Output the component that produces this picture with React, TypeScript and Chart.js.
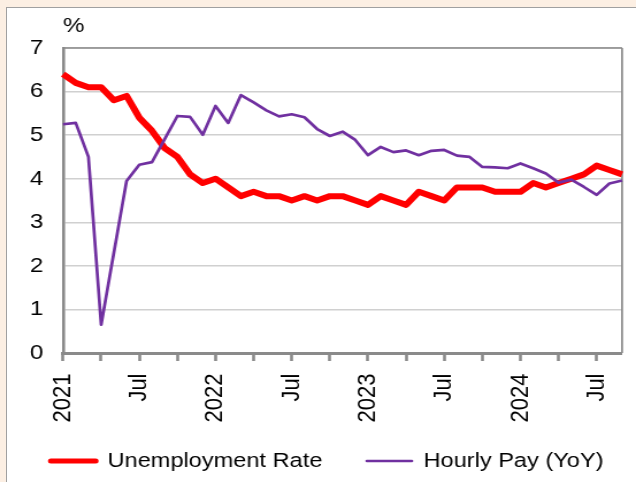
import React, { useEffect, useRef } from 'react';
import { Chart, registerables } from 'chart.js';

Chart.register(...registerables);

// ---- Data ----
const months = [
  'Jan 2021', 'Feb 2021', 'Mar 2021', 'Apr 2021', 'May 2021', 'Jun 2021',
  'Jul 2021', 'Aug 2021', 'Sep 2021', 'Oct 2021', 'Nov 2021', 'Dec 2021',
  'Jan 2022', 'Feb 2022', 'Mar 2022', 'Apr 2022', 'May 2022', 'Jun 2022',
  'Jul 2022', 'Aug 2022', 'Sep 2022', 'Oct 2022', 'Nov 2022', 'Dec 2022',
  'Jan 2023', 'Feb 2023', 'Mar 2023', 'Apr 2023', 'May 2023', 'Jun 2023',
  'Jul 2023', 'Aug 2023', 'Sep 2023', 'Oct 2023', 'Nov 2023', 'Dec 2023',
  'Jan 2024', 'Feb 2024', 'Mar 2024', 'Apr 2024', 'May 2024', 'Jun 2024',
  'Jul 2024', 'Aug 2024', 'Sep 2024',
];

const unemploymentRate = [
  6.4, 6.2, 6.1, 6.1, 5.8, 5.9, 5.4, 5.1, 4.7, 4.5, 4.1, 3.9,
  4.0, 3.8, 3.6, 3.7, 3.6, 3.6, 3.5, 3.6, 3.5, 3.6, 3.6, 3.5,
  3.4, 3.6, 3.5, 3.4, 3.7, 3.6, 3.5, 3.8, 3.8, 3.8, 3.7, 3.7,
  3.7, 3.9, 3.8, 3.9, 4.0, 4.1, 4.3, 4.2, 4.1,
];

const hourlyPayYoY = [
  5.25, 5.28, 4.5, 0.65, 2.3, 3.95, 4.32, 4.38, 4.91, 5.44, 5.42, 5.01,
  5.67, 5.28, 5.92, 5.75, 5.57, 5.43, 5.48, 5.41, 5.14, 4.98, 5.08, 4.89,
  4.54, 4.73, 4.61, 4.65, 4.54, 4.64, 4.66, 4.53, 4.5, 4.27, 4.26, 4.24,
  4.35, 4.24, 4.12, 3.91, 3.98, 3.81, 3.63, 3.89, 3.96,
];

const seriesNames = ['Unemployment Rate', 'Hourly Pay (YoY)'];
const yUnit = '%';
const yMin = 0;
const yMax = 7;
const yStep = 1;

// month -> axis label: year at January, "Jul" at July, blank otherwise
const tickLabel = (m: string) => {
  const [mon, yr] = m.split(' ');
  if (mon === 'Jan') return yr;
  if (mon === 'Jul') return 'Jul';
  return '';
};

const RED = '#ff0000';
const PURPLE = '#7030a0';
const AXIS = '#8a8a8a';
const FONT = "'Liberation Sans', Arial, Helvetica, sans-serif";

const W = 553;
const H = 482;
const SX = 636 / W;

export default function App() {
  const ref = useRef<HTMLCanvasElement>(null);

  useEffect(() => {
    const canvas = ref.current;
    if (!canvas) return;

    const framePlugin = {
      id: 'plotFrame',
      beforeDatasetsDraw(chart: any) {
        const { ctx, chartArea: a } = chart;
        ctx.save();
        ctx.strokeStyle = AXIS;
        ctx.lineWidth = 1.3;
        ctx.beginPath();
        ctx.moveTo(a.left, a.top);
        ctx.lineTo(a.right, a.top);
        ctx.stroke();
        ctx.lineWidth = 1.7;
        ctx.beginPath();
        ctx.moveTo(a.right, a.top);
        ctx.lineTo(a.right, a.bottom);
        ctx.stroke();
        ctx.restore();
      },
    };

    const chart = new Chart(canvas, {
      type: 'line',
      data: {
        labels: months,
        datasets: [
          {
            label: seriesNames[0],
            data: unemploymentRate,
            borderColor: RED,
            backgroundColor: RED,
            borderWidth: 6,
            pointRadius: 0,
            pointHoverRadius: 0,
            tension: 0,
            fill: false,
            borderJoinStyle: 'round',
            order: 1,
          },
          {
            label: seriesNames[1],
            data: hourlyPayYoY,
            borderColor: PURPLE,
            backgroundColor: PURPLE,
            borderWidth: 2.7,
            pointRadius: 0,
            pointHoverRadius: 0,
            tension: 0,
            fill: false,
            borderJoinStyle: 'round',
            order: 0,
          },
        ],
      },
      options: {
        responsive: false,
        animation: false,
        devicePixelRatio: 1,
        events: [],
        layout: {
          padding: { left: 5.5, right: -25, top: 0, bottom: 0.75 },
        },
        plugins: {
          tooltip: { enabled: false },
          title: {
            display: true,
            text: yUnit,
            align: 'start',
            fullSize: false,
            color: '#000',
            font: { family: FONT, size: 21, weight: 'normal', lineHeight: 1.2 },
            padding: { top: 14.1, bottom: 8.7 },
          },
          legend: {
            display: true,
            position: 'bottom',
            align: 'start',
            labels: {
              usePointStyle: true,
              pointStyleWidth: 39,
              padding: 38.7,
              color: '#000',
              font: { family: FONT, size: 20.5 },
              generateLabels: () => [
                {
                  text: seriesNames[0],
                  fillStyle: RED,
                  strokeStyle: RED,
                  lineWidth: 5,
                  lineCap: 'round',
                  pointStyle: 'line',
                  hidden: false,
                  datasetIndex: 0,
                  fontColor: '#000',
                },
                {
                  text: seriesNames[1],
                  fillStyle: PURPLE,
                  strokeStyle: PURPLE,
                  lineWidth: 2.7,
                  lineCap: 'round',
                  pointStyle: 'line',
                  hidden: false,
                  datasetIndex: 1,
                  fontColor: '#000',
                },
              ],
            },
          },
        },
        scales: {
          x: {
            type: 'category',
            offset: false,
            grid: {
              display: true,
              drawOnChartArea: false,
              drawTicks: true,
              tickLength: 8,
              tickWidth: 2.6,
              color: 'rgba(0,0,0,0)',
              tickColor: (c: any) => (c.index % 3 === 0 ? AXIS : 'rgba(0,0,0,0)'),
            },
            border: { display: true, color: AXIS, width: 3 },
            ticks: {
              autoSkip: false,
              maxRotation: 90,
              minRotation: 90,
              padding: 12.5,
              color: '#000',
              font: { family: FONT, size: 22 },
              callback: (_v: any, i: number) => tickLabel(months[i]),
            },
            afterFit: (s: any) => {
              s.height = 59.05;
              s.paddingLeft = 0;
              s.paddingRight = 12.1;
              // let the rotated labels run past the axis box without clipping
              s._computeLabelArea = () => undefined;
            },
          },
          y: {
            min: yMin,
            max: yMax,
            ticks: {
              stepSize: yStep,
              padding: 17.2,
              color: '#000',
              font: { family: FONT, size: 21 },
            },
            grid: {
              drawTicks: false,
              lineWidth: 1.5,
              color: (c: any) =>
                c.tick && c.tick.value === 0 ? 'rgba(0,0,0,0)' : '#d0d0d0',
            },
            border: { display: true, color: AXIS, width: 2.6 },
            afterFit: (s: any) => {
              s.width = 49.3;
            },
          },
        },
      },
      plugins: [framePlugin],
    } as any);

    return () => chart.destroy();
  }, []);

  return (
    <div
      style={{
        position: 'absolute',
        left: 0,
        top: 0,
        width: 636,
        height: 482,
        background: '#fcefe3',
        overflow: 'hidden',
      }}
    >
      <div
        style={{
          position: 'absolute',
          left: 6,
          top: 7,
          width: 660,
          height: 500,
          background: '#ffffff',
          border: '1px solid #a0a0a0',
        }}
      />
      <div
        style={{
          position: 'absolute',
          left: 0,
          top: 0,
          width: W,
          height: H,
          transform: `scaleX(${SX})`,
          transformOrigin: '0 0',
        }}
      >
        <canvas ref={ref} width={W} height={H} style={{ display: 'block' }} />
      </div>
    </div>
  );
}
